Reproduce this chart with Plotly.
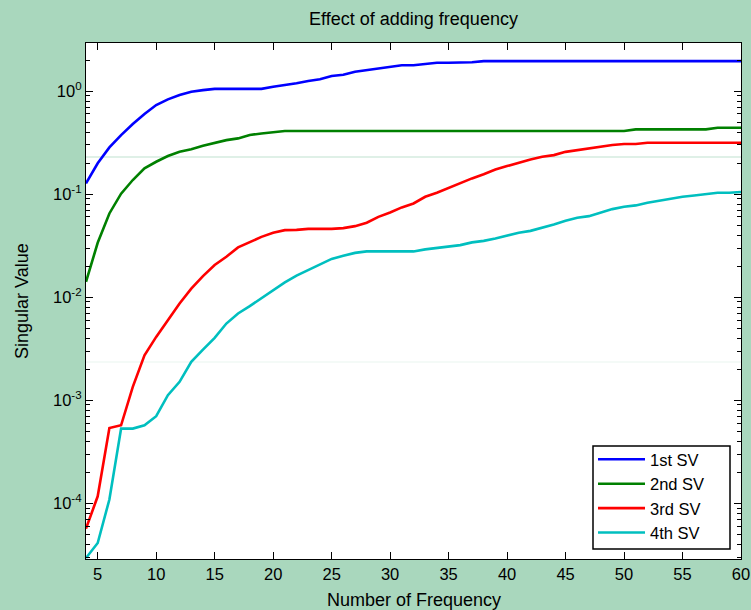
import plotly.graph_objects as go

# ---- data ----
n_freq = list(range(4, 61))

sv1 = [0.127, 0.199, 0.284, 0.374, 0.478, 0.598, 0.731, 0.83, 0.914, 0.986,
       1.02, 1.05, 1.05, 1.05, 1.05, 1.05, 1.10, 1.14, 1.19, 1.25,
       1.30, 1.40, 1.44, 1.54, 1.60, 1.66, 1.72, 1.78, 1.78, 1.83,
       1.88, 1.88, 1.88, 1.90, 1.95, 1.95, 1.95, 1.95, 1.95, 1.95,
       1.95, 1.95, 1.95, 1.95, 1.95, 1.95, 1.95, 1.95, 1.95, 1.95,
       1.95, 1.95, 1.95, 1.95, 1.95, 1.95, 1.95]

sv2 = [0.0141, 0.0337, 0.0649, 0.101, 0.137, 0.178, 0.206, 0.234, 0.258, 0.272,
       0.294, 0.315, 0.334, 0.347, 0.374, 0.388, 0.400, 0.409, 0.41, 0.41,
       0.41, 0.41, 0.41, 0.41, 0.41, 0.41, 0.41, 0.41, 0.41, 0.41,
       0.41, 0.41, 0.41, 0.41, 0.41, 0.41, 0.41, 0.41, 0.41, 0.41,
       0.41, 0.41, 0.41, 0.41, 0.41, 0.41, 0.41, 0.425, 0.425, 0.425,
       0.425, 0.425, 0.425, 0.425, 0.44, 0.44, 0.44]

sv3 = [5.68e-5, 1.17e-4, 5.38e-4, 5.72e-4, 1.35e-3, 2.73e-3, 4.12e-3, 5.98e-3, 8.69e-3, 0.0121,
       0.016, 0.0205, 0.0247, 0.0304, 0.0345, 0.0385, 0.0422, 0.0447, 0.045, 0.046,
       0.046, 0.046, 0.0468, 0.0489, 0.0527, 0.0602, 0.0664, 0.0743, 0.0811, 0.0942,
       0.103, 0.115, 0.127, 0.142, 0.156, 0.173, 0.187, 0.203, 0.217, 0.230,
       0.239, 0.257, 0.267, 0.278, 0.288, 0.299, 0.306, 0.306, 0.315, 0.315,
       0.315, 0.315, 0.315, 0.315, 0.315, 0.315, 0.315]

sv4 = [2.95e-5, 4.12e-5, 1.09e-4, 5.31e-4, 5.31e-4, 5.72e-4, 7.0e-4, 1.12e-3, 1.51e-3, 2.36e-3,
       3.1e-3, 4.03e-3, 5.55e-3, 6.95e-3, 8.2e-3, 9.8e-3, 0.0116, 0.0139, 0.0162, 0.0183,
       0.0209, 0.0235, 0.0252, 0.0269, 0.0278, 0.0278, 0.0278, 0.0278, 0.0278, 0.0291,
       0.0299, 0.0308, 0.032, 0.034, 0.0352, 0.0371, 0.0397, 0.0421, 0.044, 0.0471,
       0.0508, 0.0551, 0.0589, 0.0611, 0.0659, 0.0715, 0.0753, 0.0777, 0.0824, 0.0861,
       0.0908, 0.0942, 0.0971, 0.100, 0.103, 0.103, 0.105]

series_names = ["1st SV", "2nd SV", "3rd SV", "4th SV"]
series_colors = ["#0000ff", "#008000", "#ff0000", "#00bfbf"]

x_ticks = [5, 10, 15, 20, 25, 30, 35, 40, 45, 50, 55, 60]
y_ticks = [1e-4, 1e-3, 1e-2, 1e-1, 1e0]
y_ticktext = ["10<sup>-4</sup>", "10<sup>-3</sup>", "10<sup>-2</sup>",
              "10<sup>-1</sup>", "10<sup>0</sup>"]

# ---- figure ----
FONT = "Arial, Liberation Sans, sans-serif"
fig = go.Figure()
for name, ys, col in zip(series_names, [sv1, sv2, sv3, sv4], series_colors):
    fig.add_trace(go.Scatter(x=n_freq, y=ys, mode="lines", name=name,
                             line=dict(color=col, width=2.6)))

minor_vals = []
for e in range(-5, 1):
    for m in range(2, 10):
        minor_vals.append(m * 10.0 ** e)

L, R, T, B = 86, 10, 43, 51
W, H = 751, 610
pw, ph = W - L - R, H - T - B


def px_x(p):
    return (p - L) / pw


def px_y(p):
    return (H - B - p) / ph


fig.update_layout(
    template="none",
    width=W, height=H,
    margin=dict(l=L, r=R, t=T, b=B, pad=0),
    paper_bgcolor="#a9d7bd",
    plot_bgcolor="white",
    font=dict(family=FONT, color="black", size=16),
    showlegend=True,
    legend=dict(x=px_x(593), xanchor="left", y=px_y(550), yanchor="bottom",
                bgcolor="rgba(0,0,0,0)", borderwidth=0,
                font=dict(size=16.5, family=FONT, color="black"),
                itemwidth=47),
    title=dict(text="Effect of adding frequency", x=0.5, xref="paper",
               y=1 - 19 / H, yref="container", yanchor="middle", xanchor="center",
               font=dict(size=18, family=FONT, color="black")),
    xaxis=dict(range=[4, 60], tickmode="array", tickvals=x_ticks, automargin=False,
               ticks="inside", ticklen=7, tickwidth=1, tickcolor="black",
               showline=True, linecolor="black", linewidth=1.2, mirror="allticks",
               showgrid=False, zeroline=False,
               tickfont=dict(size=16.5, family=FONT, color="black")),
    yaxis=dict(type="log", range=[-4.54, 0.466], tickmode="array", tickvals=y_ticks,
               ticktext=y_ticktext, automargin=False,
               ticks="inside", ticklen=7, tickwidth=1, tickcolor="black",
               showline=True, linecolor="black", linewidth=1.2, mirror="allticks",
               showgrid=False, zeroline=False,
               minor=dict(ticks="inside", ticklen=4, tickcolor="black", tickwidth=1,
                          tickmode="array", tickvals=minor_vals, showgrid=False),
               tickfont=dict(size=16.5, family=FONT, color="black")),
    annotations=[
        dict(text="Number of Frequency", xref="paper", yref="paper",
             x=0.5, y=px_y(600), xanchor="center", yanchor="middle",
             showarrow=False, font=dict(size=18, family=FONT, color="black")),
        dict(text="Singular Value", xref="paper", yref="paper",
             x=px_x(22), y=0.5, xanchor="center", yanchor="middle",
             textangle=-90, showarrow=False,
             font=dict(size=18, family=FONT, color="black")),
    ],
    shapes=[
        dict(type="line", xref="paper", yref="paper", x0=0, x1=1,
             y0=px_y(157), y1=px_y(157),
             line=dict(color="#bfe1cf", width=1), layer="below"),
        dict(type="line", xref="paper", yref="paper", x0=0, x1=1,
             y0=px_y(362), y1=px_y(362),
             line=dict(color="#e9f5ef", width=1), layer="below"),
        # legend box
        dict(type="rect", xref="paper", yref="paper",
             x0=px_x(593), x1=px_x(730), y0=px_y(549), y1=px_y(446),
             fillcolor="white", line=dict(color="black", width=1.5), layer="above"),
    ],
)

fig.write_html("out.html")
